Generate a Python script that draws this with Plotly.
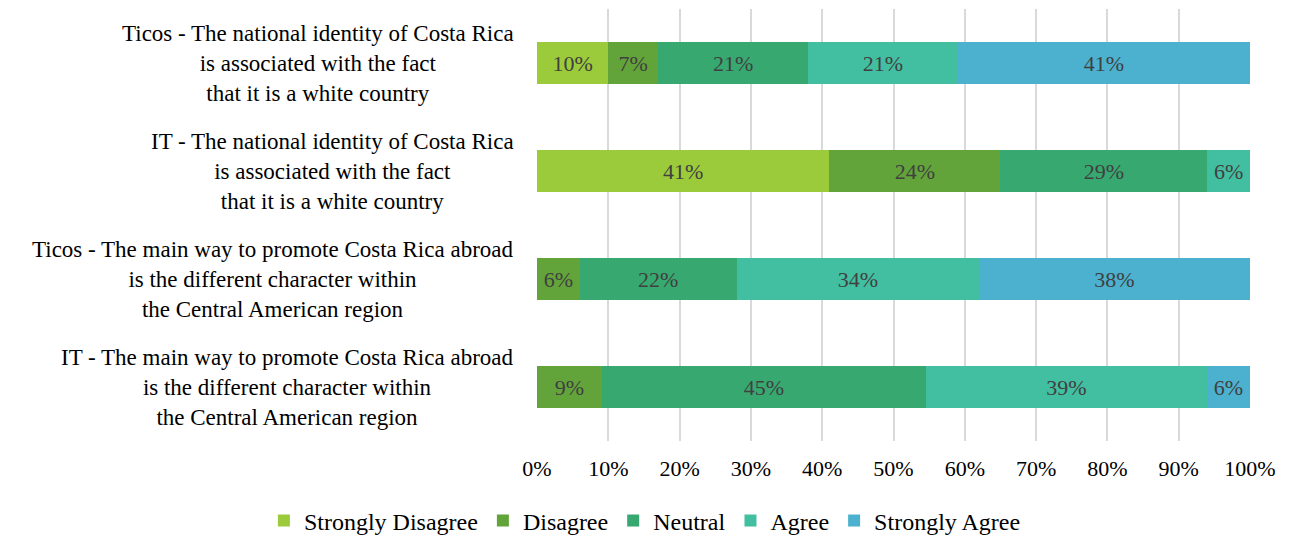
import plotly.graph_objects as go

categories = [
    "Ticos - The national identity of Costa Rica<br>is associated with the fact<br>that it is a white country",
    "IT - The national identity of Costa Rica<br>is associated with the fact<br>that it is a white country",
    "Ticos - The main way to promote Costa Rica abroad<br>is the different character within<br>the Central American region",
    "IT - The main way to promote Costa Rica abroad<br>is the different character within<br>the Central American region",
]
series_names = ["Strongly Disagree", "Disagree", "Neutral", "Agree", "Strongly Agree"]
strongly_disagree = [10, 41, 0, 0]
disagree = [7, 24, 6, 9]
neutral = [21, 29, 22, 45]
agree = [21, 6, 34, 39]
strongly_agree = [41, 0, 38, 6]
colors = ["#9BCB3B", "#63A43A", "#37A870", "#42BFA0", "#4BB1CF"]
x_ticks = [0, 10, 20, 30, 40, 50, 60, 70, 80, 90, 100]
x_tick_labels = ["0%", "10%", "20%", "30%", "40%", "50%", "60%", "70%", "80%", "90%", "100%"]

series_values = [strongly_disagree, disagree, neutral, agree, strongly_agree]
FONT = "Liberation Serif, Times New Roman, serif"

fig = go.Figure()
totals = [sum(s[i] for s in series_values) for i in range(len(categories))]
for name, vals, col in zip(series_names, series_values, colors):
    share = [v / t * 100 for v, t in zip(vals, totals)]
    fig.add_trace(go.Bar(
        name=name,
        y=categories,
        x=share,
        orientation="h",
        marker=dict(color=col, line=dict(width=0)),
        text=[f"{v}%" if v > 0 else "" for v in vals],
        textposition="inside",
        insidetextanchor="middle",
        textfont=dict(family=FONT, size=22, color="#404040"),
        textangle=0,
        hoverinfo="skip",
    ))

for cat in categories:
    fig.add_annotation(
        x=-0.03, xref="paper", y=cat, yref="y",
        text=cat, showarrow=False, xanchor="right", yanchor="middle",
        align="center", font=dict(family=FONT, size=23, color="#000000"),
    )

fig.update_layout(
    barmode="stack",
    bargap=0.61,
    width=1293, height=535,
    margin=dict(l=537, r=43, t=9, b=94, autoexpand=False),
    paper_bgcolor="white", plot_bgcolor="white",
    font=dict(family=FONT, size=22, color="#000000"),
    uniformtext=dict(minsize=10, mode="show"),
    xaxis=dict(
        range=[0, 100], tickvals=x_ticks, ticktext=x_tick_labels,
        showgrid=True, gridcolor="#D9D9D9", gridwidth=1.5,
        zeroline=False, showline=False, ticks="",
        ticklabelstandoff=12,
        tickfont=dict(family=FONT, size=22, color="#000000"),
        fixedrange=True,
    ),
    yaxis=dict(
        categoryorder="array", categoryarray=categories,
        autorange="reversed", showticklabels=False, showgrid=False,
        zeroline=False, showline=False, ticks="",
    ),
    legend=dict(
        orientation="h", xref="paper", x=-0.383, xanchor="left",
        yref="paper", y=-0.185, yanchor="middle",
        font=dict(family=FONT, size=24, color="#000000"),
        itemwidth=30, traceorder="normal",
    ),
    showlegend=True,
)

fig.write_html("out.html")
